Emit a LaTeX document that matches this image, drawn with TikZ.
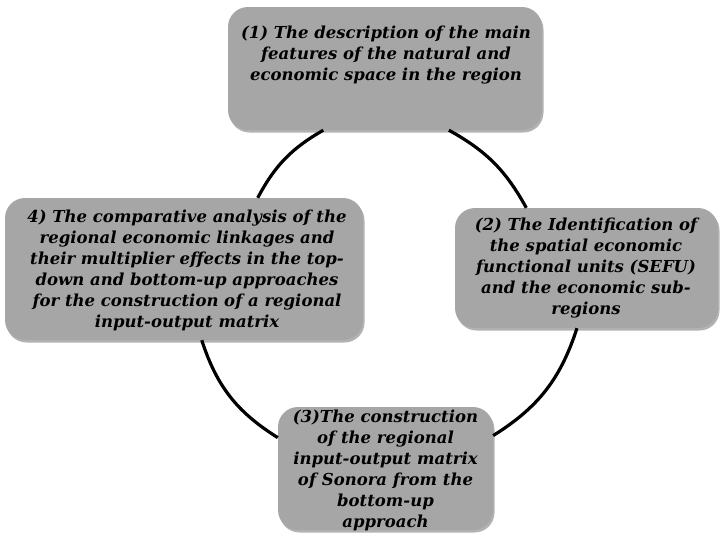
\documentclass[tikz,border=0pt]{standalone}
\usepackage{fontspec}
\setmainfont{DejaVu Serif}
\usetikzlibrary{shadows}
\definecolor{boxgray}{RGB}{166,166,166}
\tikzset{
  stepbox/.style={draw=none, fill=boxgray, rounded corners=20pt,
    drop shadow={shadow xshift=1.5pt, shadow yshift=-2.5pt, opacity=0.3, fill=black}},
  steptext/.style={align=center, inner sep=0pt, font=\fontsize{16.5}{21}\selectfont\bfseries\itshape},
  link/.style={line width=3.2pt, black}
}
\begin{document}
\begin{tikzpicture}[x=1pt,y=1pt]
\useasboundingbox (0,0) rectangle (728,-544);
% boxes
\node[stepbox, minimum width=314pt, minimum height=123pt] (b1) at (385,-68.5) {};
\node[stepbox, minimum width=263pt, minimum height=120pt] (b2) at (586.5,-268) {};
\node[stepbox, minimum width=215pt, minimum height=123pt] (b3) at (385.5,-468.5) {};
\node[stepbox, minimum width=358pt, minimum height=142pt] (b4) at (184,-269) {};
% connectors
\draw[link] (b1.-135) to[bend right=16] (b4.44);
\draw[link] (b4.-76) to[bend right=20] (b3.164);
\draw[link] (b3.17) to[bend right=20] (b2.-99);
\draw[link] (b2.135) to[bend right=16] (b1.-44);
% texts
\node[steptext, anchor=north] (t1) at (386,-26) {(1) The description of the main\\features of the natural and\\economic space in the region};
\node[steptext] (t2) at (586,-268.5) {(2) The Identification of\\the spatial economic\\functional units (SEFU)\\and the economic sub-\\regions};
\node[steptext] (t3) at (385.5,-470) {(3)The construction\\of the regional\\input-output matrix\\of Sonora from the\\bottom-up\\approach};
\node[steptext] (t4) at (187,-270) {4) The comparative analysis of the\\regional economic linkages and\\their multiplier effects in the top-\\down and bottom-up approaches\\for the construction of a regional\\input-output matrix};
\end{tikzpicture}
\end{document}
